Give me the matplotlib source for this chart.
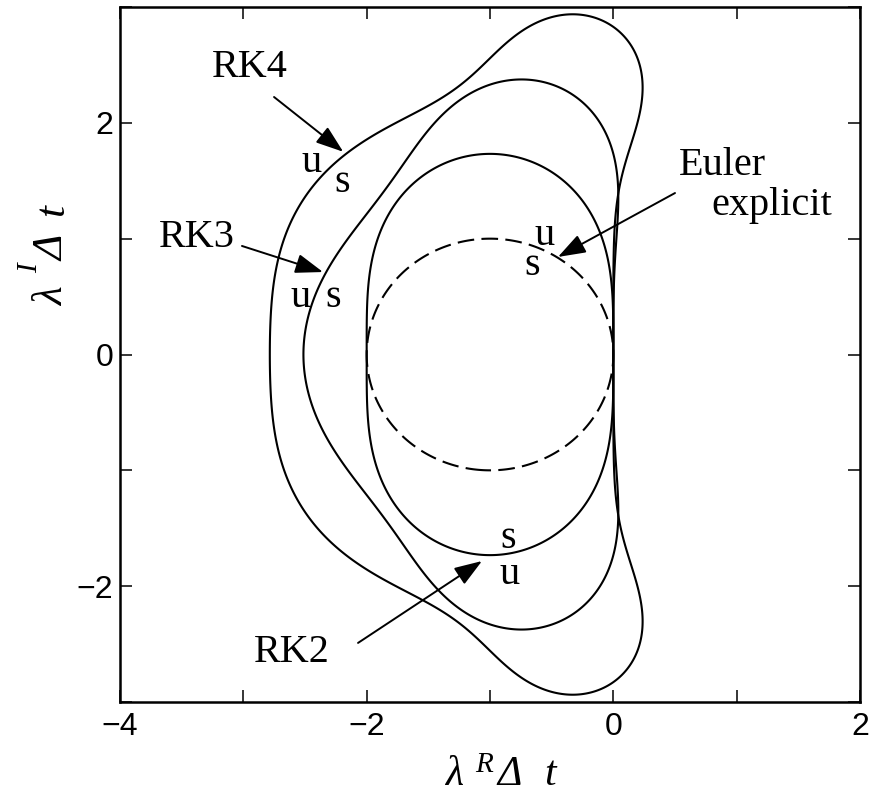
import numpy as np
import matplotlib
matplotlib.use("Agg")
import matplotlib.pyplot as plt
from matplotlib.ticker import MultipleLocator
from math import factorial

# Stability regions |R(z)| = 1, R(z) = sum_k z^k/k!, k = 0..order
method_names = ["Euler explicit", "RK2", "RK3", "RK4"]
method_orders = [1, 2, 3, 4]
method_styles = ["dashed", "solid", "solid", "solid"]

x_ticks = [-4, -2, 0, 2]
y_ticks = [-2, 0, 2]

W, H = 880, 795
fig = plt.figure(figsize=(W / 100, H / 100), dpi=100)
ax = fig.add_axes([120 / W, 1 - 702 / H, 740 / W, 695 / H])

xs = np.linspace(-4, 2, 900)
ys = np.linspace(-3, 3, 900)
X, Y = np.meshgrid(xs, ys)
Z = X + 1j * Y

for name, order, style in zip(method_names, method_orders, method_styles):
    R = np.zeros_like(Z)
    for k in range(order + 1):
        R = R + Z ** k / factorial(k)
    cs = ax.contour(X, Y, np.abs(R), levels=[1.0], colors="k", linewidths=1.5)
    if style == "dashed":
        cs.set_linestyle((0, (8, 3.5)))

ax.set_xlim(-4, 2)
ax.set_ylim(-3, 3)
ax.set_xticks(x_ticks)
ax.set_yticks(y_ticks)
ax.set_xticklabels(["\u22124", "\u22122", "0", "2"])
ax.set_yticklabels(["\u22122", "0", "2"])
ax.xaxis.set_minor_locator(MultipleLocator(1))
ax.yaxis.set_minor_locator(MultipleLocator(1))
ax.tick_params(which="both", direction="in", length=8.6, width=1.1,
               top=True, right=True)
ax.tick_params(axis="x", which="major", pad=7, labelsize=23)
ax.tick_params(axis="y", which="major", pad=5, labelsize=23)
for lab in ax.get_xticklabels() + ax.get_yticklabels():
    lab.set_family("Liberation Sans")
for sp in ax.spines.values():
    sp.set_linewidth(1.8)

serif = dict(family="Liberation Serif", fontsize=29, color="k")

# method labels
ax.text(-2.946, 2.396, "RK4", ha="center", va="baseline", **serif)
ax.text(-3.376, 0.928, "RK3", ha="center", va="baseline", **serif)
ax.text(0.881, 1.550, "Euler", ha="center", va="baseline", **serif)
ax.text(1.287, 1.204, "explicit", ha="center", va="baseline", **serif)
ax.text(-2.605, -2.655, "RK2", ha="center", va="baseline", **serif)

# u / s markers
us_labels = [("u", -2.443, 1.576), ("s", -2.20, 1.403),
             ("u", -2.54, 0.410), ("s", -2.273, 0.410),
             ("u", -0.554, 0.945), ("s", -0.659, 0.686),
             ("s", -0.854, -1.671), ("u", -0.838, -1.981)]
for t, x, y in us_labels:
    ax.text(x, y, t, ha="center", va="baseline", **serif)

arrow = dict(arrowstyle="-|>,head_length=0.85,head_width=0.3",
             mutation_scale=20, color="k", lw=1.4, shrinkA=0, shrinkB=0)
arrows = [((-2.751, 2.223), (-2.19, 1.75)),
          ((-3.011, 0.937), (-2.354, 0.712)),
          ((0.5, 1.394), (-0.449, 0.842)),
          ((-2.07, -2.49), (-1.065, -1.783))]
for start, end in arrows:
    ax.annotate("", xy=end, xytext=start, arrowprops=arrow)

# axis labels built from italic serif pieces
ital = dict(family="Liberation Serif", style="italic", color="k")

def px_text(px, py, s, size, rot=0):
    fig.text(px / W, 1 - py / H, s, ha="left", va="baseline", fontsize=size,
             rotation=rot, rotation_mode="anchor", **ital)

# x label: lambda^R Delta t
px_text(445, 785, "\u03bb", 30)
px_text(475, 772, "R", 21)
px_text(497, 785, "\u0394", 30)
px_text(544, 785, "t", 30)

# y label: lambda^I Delta t (rotated)
px_text(63, 306, "\u03bb", 31, 90)
px_text(37, 273, "I", 21, 90)
px_text(63, 261, "\u0394", 31, 90)
px_text(63, 216, "t", 31, 90)

fig.savefig("out.png", dpi=100)
